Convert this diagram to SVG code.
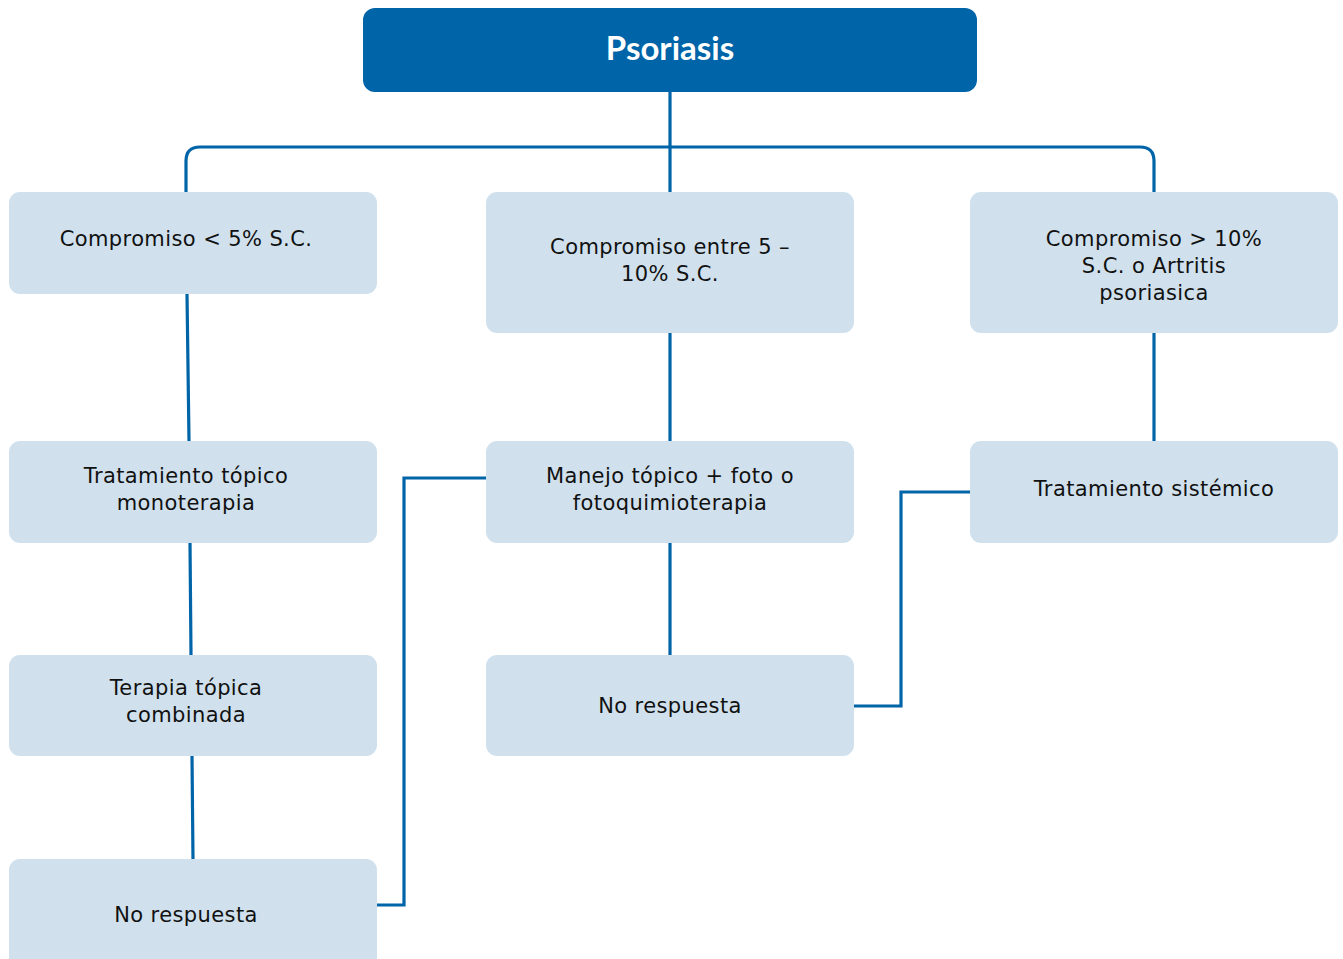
<svg xmlns="http://www.w3.org/2000/svg" width="1343" height="959" viewBox="0 0 1343 959">
<style>
.n{fill:#D0E1ED}
.t{font-family:"DejaVu Sans",sans-serif;font-size:21px;fill:#111;text-anchor:middle;letter-spacing:0.4px}
.c{fill:none;stroke:#0064A8;stroke-width:3.2}
</style>
<rect width="1343" height="959" fill="#fff"/>
<g id="connectors" class="c">
<path d="M670 92V192"/>
<path d="M186 192V161Q186 147 200 147H1140Q1154 147 1154 161V192"/>
<path d="M187 294L189 441"/>
<path d="M190 543L191 655"/>
<path d="M192 756L193 859"/>
<path d="M670 333V441"/>
<path d="M670 543V655"/>
<path d="M1154 333V441"/>
<path d="M377 905H404V478H486"/>
<path d="M854 706H901V492H970"/>
</g>
<g id="root">
<rect x="363" y="8" width="614" height="84" rx="12" fill="#0064A8"/>
<text x="670" y="60" font-family="Lato,sans-serif" font-weight="bold" font-size="33" fill="#fff" text-anchor="middle">Psoriasis</text>
</g>
<g id="n1"><rect class="n" x="9" y="192" width="368" height="102" rx="11"/><text class="t" x="186" y="246">Compromiso &lt; 5% S.C.</text></g>
<g id="n2"><rect class="n" x="486" y="192" width="368" height="141" rx="11"/><text class="t" x="670" y="254">Compromiso entre 5 –</text><text class="t" x="670" y="281">10% S.C.</text></g>
<g id="n3"><rect class="n" x="970" y="192" width="368" height="141" rx="11"/><text class="t" x="1154" y="246">Compromiso &gt; 10%</text><text class="t" x="1154" y="273">S.C. o Artritis</text><text class="t" x="1154" y="300">psoriasica</text></g>
<g id="n4"><rect class="n" x="9" y="441" width="368" height="102" rx="11"/><text class="t" x="186" y="483">Tratamiento tópico</text><text class="t" x="186" y="510">monoterapia</text></g>
<g id="n5"><rect class="n" x="486" y="441" width="368" height="102" rx="11"/><text class="t" x="670" y="483">Manejo tópico + foto o</text><text class="t" x="670" y="510">fotoquimioterapia</text></g>
<g id="n6"><rect class="n" x="970" y="441" width="368" height="102" rx="11"/><text class="t" x="1154" y="496">Tratamiento sistémico</text></g>
<g id="n7"><rect class="n" x="9" y="655" width="368" height="101" rx="11"/><text class="t" x="186" y="695">Terapia tópica</text><text class="t" x="186" y="722">combinada</text></g>
<g id="n8"><rect class="n" x="486" y="655" width="368" height="101" rx="11"/><text class="t" x="670" y="713">No respuesta</text></g>
<g id="n9"><rect class="n" x="9" y="859" width="368" height="110" rx="11"/><text class="t" x="186" y="922">No respuesta</text></g>
</svg>
